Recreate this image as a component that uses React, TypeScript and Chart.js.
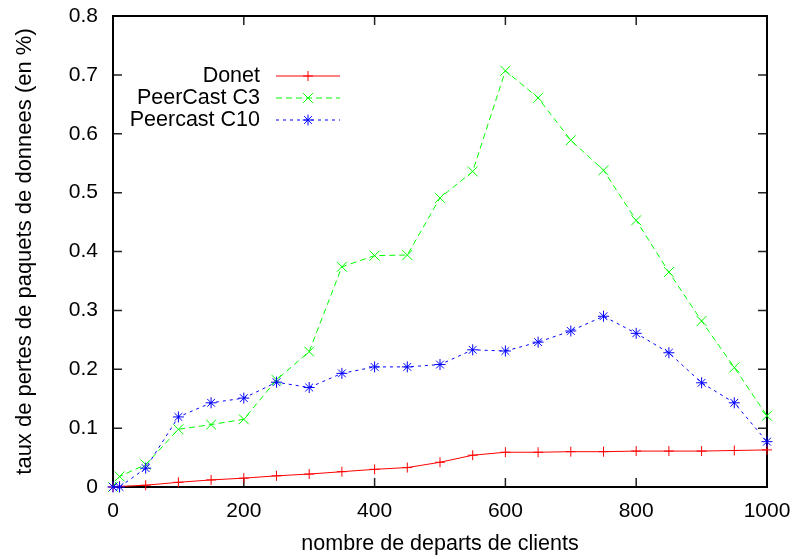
import { useEffect, useRef } from 'react';
import { Chart, registerables } from 'chart.js';
Chart.register(...registerables);

const departures = [0, 10, 50, 100, 150, 200, 250, 300, 350, 400, 450, 500, 550, 600, 650, 700, 750, 800, 850, 900, 950, 1000];
const donet = [0, 0.001, 0.003, 0.008, 0.012, 0.015, 0.019, 0.022, 0.026, 0.030, 0.033, 0.042, 0.054, 0.059, 0.059, 0.060, 0.060, 0.061, 0.061, 0.061, 0.062, 0.063];
const peercastC3 = [0, 0.018, 0.038, 0.098, 0.106, 0.115, 0.182, 0.230, 0.374, 0.393, 0.394, 0.491, 0.536, 0.707, 0.661, 0.589, 0.538, 0.453, 0.365, 0.282, 0.203, 0.121];
const peercastC10 = [0, 0, 0.032, 0.119, 0.143, 0.151, 0.178, 0.169, 0.193, 0.204, 0.204, 0.208, 0.233, 0.231, 0.246, 0.265, 0.290, 0.261, 0.228, 0.177, 0.143, 0.077];

const seriesNames = ['Donet', 'PeerCast C3', 'Peercast C10'];
const xTitle = 'nombre de departs de clients';
const yTitle = 'taux de pertes de paquets de donnees (en %)';

const FONT = '"Liberation Sans", Arial, Helvetica, sans-serif';
const colors = ['#ff0000', '#00ff00', '#0000ff'];
const dashes = [[], [6, 4], [3, 4]];
const styles = ['cross', 'crossRot', 'star'];
const radii = [5, 7, 5.5];

function drawMarker(ctx: CanvasRenderingContext2D, style: string, x: number, y: number, r: number) {
  ctx.beginPath();
  if (style === 'cross' || style === 'star') {
    ctx.moveTo(x - r, y); ctx.lineTo(x + r, y);
    ctx.moveTo(x, y - r); ctx.lineTo(x, y + r);
  }
  if (style === 'crossRot' || style === 'star') {
    const d = r * 0.707;
    ctx.moveTo(x - d, y - d); ctx.lineTo(x + d, y + d);
    ctx.moveTo(x - d, y + d); ctx.lineTo(x + d, y - d);
  }
  ctx.stroke();
}

const framePlugin = {
  id: 'frame',
  beforeDatasetsDraw(chart: any) {
    const { ctx, chartArea: a, scales } = chart;
    ctx.save();
    ctx.strokeStyle = '#222';
    ctx.lineWidth = 1.5;
    const tl = 9;
    ctx.beginPath();
    scales.x.ticks.forEach((t: any) => {
      const px = scales.x.getPixelForValue(t.value);
      ctx.moveTo(px, a.bottom); ctx.lineTo(px, a.bottom - tl);
      ctx.moveTo(px, a.top); ctx.lineTo(px, a.top + tl);
    });
    scales.y.ticks.forEach((t: any) => {
      const py = scales.y.getPixelForValue(t.value);
      ctx.moveTo(a.left, py); ctx.lineTo(a.left + tl, py);
      ctx.moveTo(a.right, py); ctx.lineTo(a.right - tl, py);
    });
    ctx.stroke();
    ctx.strokeStyle = '#000';
    ctx.lineWidth = 2;
    ctx.strokeRect(a.left, a.top, a.right - a.left, a.bottom - a.top);
    ctx.restore();
  },
};

const keyPlugin = {
  id: 'key',
  afterDraw(chart: any) {
    const { ctx, chartArea: a } = chart;
    ctx.save();
    ctx.font = `21.5px ${FONT}`;
    ctx.textAlign = 'right';
    ctx.textBaseline = 'middle';
    seriesNames.forEach((name, i) => {
      const y = a.top + 60 + i * 22;
      ctx.fillStyle = '#000';
      ctx.fillText(name, a.left + 147, y);
      ctx.strokeStyle = colors[i];
      ctx.lineWidth = 1;
      ctx.setLineDash(dashes[i]);
      ctx.beginPath();
      ctx.moveTo(a.left + 163, y);
      ctx.lineTo(a.left + 227, y);
      ctx.stroke();
      ctx.setLineDash([]);
      drawMarker(ctx, styles[i], a.left + 195, y, radii[i]);
    });
    ctx.restore();
  },
};

export default function App() {
  const ref = useRef<HTMLCanvasElement>(null);
  useEffect(() => {
    if (!ref.current) return;
    const series = [donet, peercastC3, peercastC10];
    const chart = new Chart(ref.current, {
      type: 'line',
      data: {
        datasets: series.map((vals, i) => ({
          label: seriesNames[i],
          data: departures.map((x, j) => ({ x, y: vals[j] })),
          borderColor: colors[i],
          backgroundColor: colors[i],
          borderWidth: 1,
          borderDash: dashes[i],
          pointStyle: styles[i] as any,
          pointRadius: radii[i],
          pointBorderWidth: 1,
          pointBorderColor: colors[i],
          pointHoverRadius: radii[i],
          tension: 0,
          fill: false,
          clip: false as any,
          order: 3 - i,
        })),
      },
      options: {
        animation: false,
        responsive: false,
        devicePixelRatio: 1,
        layout: { padding: { top: 16, right: 31, left: 0, bottom: 0 } },
        plugins: { legend: { display: false }, tooltip: { enabled: false } },
        scales: {
          x: {
            type: 'linear',
            min: 0,
            max: 1000,
            grid: { display: false, drawTicks: false, tickLength: 0 },
            border: { display: false },
            ticks: {
              stepSize: 200,
              padding: 12,
              color: '#000',
              font: { family: FONT, size: 21 },
              maxRotation: 0,
              callback: (v: any) => String(v),
            },
            title: {
              display: true,
              text: xTitle,
              color: '#000',
              font: { family: FONT, size: 21.5 },
              padding: { top: 0, bottom: 2 },
            },
            afterFit: (s: any) => { s.height = 72; s.paddingLeft = 0; s.paddingRight = 0; },
          },
          y: {
            type: 'linear',
            min: 0,
            max: 0.8,
            grid: { display: false, drawTicks: false, tickLength: 0 },
            border: { display: false },
            ticks: {
              stepSize: 0.1,
              padding: 15,
              color: '#000',
              font: { family: FONT, size: 21 },
              callback: (v: any) => String(Number(Number(v).toFixed(1))),
            },
            title: {
              display: true,
              text: yTitle,
              color: '#000',
              font: { family: FONT, size: 22 },
              padding: { top: 12, bottom: 0 },
            },
            afterFit: (s: any) => { s.width = 113; s.paddingTop = 0; s.paddingBottom = 0; },
          },
        },
      },
      plugins: [framePlugin, keyPlugin],
    });
    return () => chart.destroy();
  }, []);
  return (
    <div style={{ position: 'absolute', left: 0, top: 0, width: 798, height: 559, background: '#fff' }}>
      <canvas ref={ref} width={798} height={559} />
    </div>
  );
}
